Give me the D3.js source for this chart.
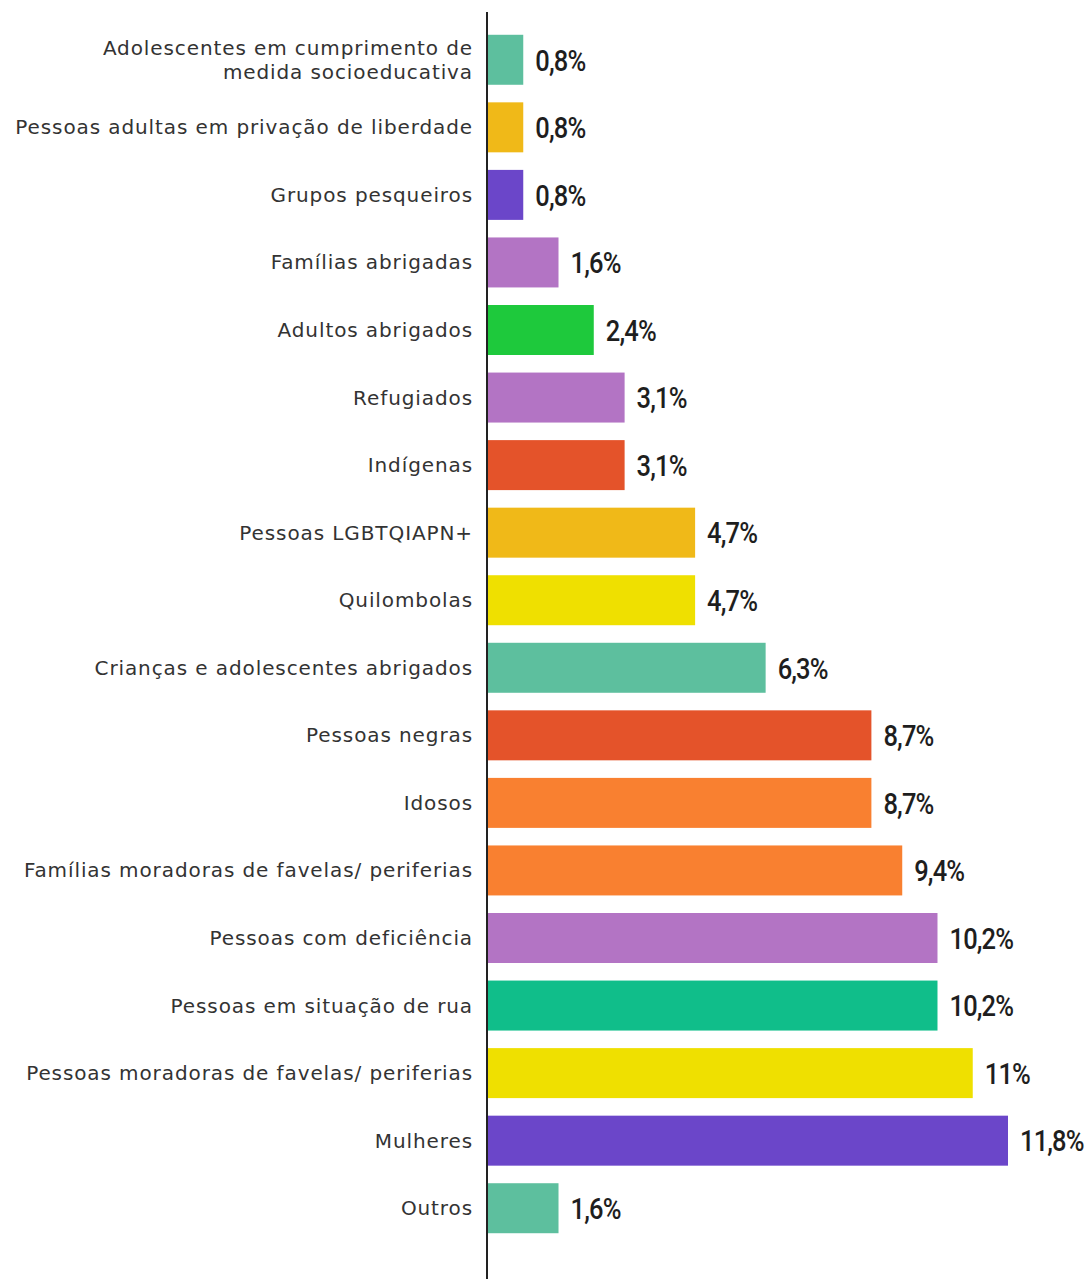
<!DOCTYPE html>
<html><head><meta charset="utf-8">
<script src="https://cdn.jsdelivr.net/npm/d3@7"></script>
<style>body{margin:0;background:#fff}</style>
</head><body>
<svg id="chart" width="1089" height="1279"></svg>
<script>
const categories = [
  ["Adolescentes em cumprimento de","medida socioeducativa"],
  ["Pessoas adultas em privação de liberdade"],
  ["Grupos pesqueiros"],
  ["Famílias abrigadas"],
  ["Adultos abrigados"],
  ["Refugiados"],
  ["Indígenas"],
  ["Pessoas LGBTQIAPN+"],
  ["Quilombolas"],
  ["Crianças e adolescentes abrigados"],
  ["Pessoas negras"],
  ["Idosos"],
  ["Famílias moradoras de favelas/ periferias"],
  ["Pessoas com deficiência"],
  ["Pessoas em situação de rua"],
  ["Pessoas moradoras de favelas/ periferias"],
  ["Mulheres"],
  ["Outros"]
];
const values = [0.8,0.8,0.8,1.6,2.4,3.1,3.1,4.7,4.7,6.3,8.7,8.7,9.4,10.2,10.2,11,11.8,1.6];
const valueLabels = ["0,8%","0,8%","0,8%","1,6%","2,4%","3,1%","3,1%","4,7%","4,7%","6,3%","8,7%","8,7%","9,4%","10,2%","10,2%","11%","11,8%","1,6%"];
const colors = ["#5dbf9e","#f0b918","#6b46c9","#b374c4","#1ec93c","#b374c4","#e4532a","#f0b918","#efe000","#5dbf9e","#e4532a","#f98030","#f98030","#b374c4","#10be8a","#efe000","#6b46c9","#5dbf9e"];

const svg = d3.select("#chart");
const x0 = 488;
const x = d3.scaleLinear().domain([0, 11.8]).range([x0, 1008]);
const y = d3.scaleBand().domain(d3.range(categories.length)).range([26, 1242]).paddingInner(0.26).paddingOuter(0.13);

svg.append("g").selectAll("rect").data(values).join("rect")
  .attr("x", x(0)).attr("y", (d,i)=>y(i))
  .attr("width", d=>x(d)-x(0)).attr("height", y.bandwidth())
  .attr("fill", (d,i)=>colors[i]);

svg.append("g").selectAll("text").data(values).join("text")
  .attr("transform", (d,i)=>`translate(${x(d)+12},${y(i)+y.bandwidth()/2}) scale(0.85,1)`)
  .attr("dy","0.36em")
  .attr("font-family","Roboto,sans-serif")
  .attr("font-weight",500)
  .attr("font-size", 30).attr("fill","#1e1e1e")
  .attr("letter-spacing","-1")
  .text((d,i)=>valueLabels[i]);

const lab = svg.append("g").selectAll("text").data(categories).join("text")
  .attr("x", 473)
  .attr("y", (d,i)=>y(i)+y.bandwidth()/2)
  .attr("text-anchor","end")
  .attr("font-family","'DejaVu Sans',sans-serif")
  .attr("font-size", 20).attr("fill","#333")
  .attr("letter-spacing","0.9");
lab.each(function(d){
  const t = d3.select(this);
  const n = d.length;
  d.forEach((line,k)=>{
    t.append("tspan").attr("x",473)
     .attr("dy", k===0 ? ((0.35 - (n-1)*0.6)+"em") : "1.2em")
     .text(line);
  });
});

svg.append("line").attr("x1",x0-1).attr("x2",x0-1).attr("y1",12).attr("y2",1279)
  .attr("stroke","#222").attr("stroke-width",2);
</script>
</body></html>
